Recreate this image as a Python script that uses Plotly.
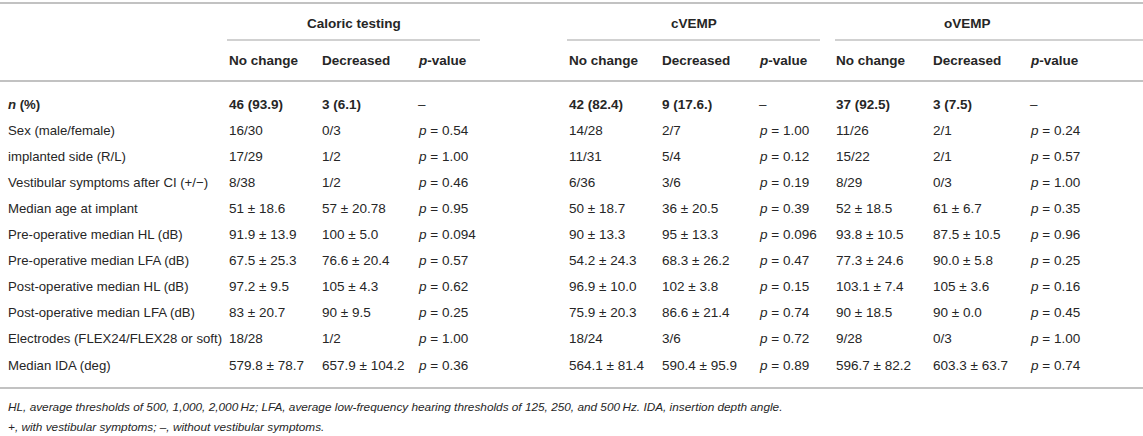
import plotly.graph_objects as go

# table content
group_titles = ["Caloric testing", "cVEMP", "oVEMP"]
sub_headers = ["No change", "Decreased", "<i>p</i>-value"]

row_labels = [
    "<b><i>n</i> (%)</b>",
    "Sex (male/female)",
    "implanted side (R/L)",
    "Vestibular symptoms after CI (+/\u2212)",
    "Median age at implant",
    "Pre-operative median HL (dB)",
    "Pre-operative median LFA (dB)",
    "Post-operative median HL (dB)",
    "Post-operative median LFA (dB)",
    "Electrodes (FLEX24/FLEX28 or soft)",
    "Median IDA (deg)",
]

caloric_nc = ["46 (93.9)", "16/30", "17/29", "8/38", "51 \u00b1 18.6", "91.9 \u00b1 13.9",
              "67.5 \u00b1 25.3", "97.2 \u00b1 9.5", "83 \u00b1 20.7", "18/28", "579.8 \u00b1 78.7"]
caloric_dec = ["3 (6.1)", "0/3", "1/2", "1/2", "57 \u00b1 20.78", "100 \u00b1 5.0",
               "76.6 \u00b1 20.4", "105 \u00b1 4.3", "90 \u00b1 9.5", "1/2", "657.9 \u00b1 104.2"]
caloric_p = ["\u2013", "0.54", "1.00", "0.46", "0.95", "0.094", "0.57", "0.62", "0.25", "1.00", "0.36"]

cvemp_nc = ["42 (82.4)", "14/28", "11/31", "6/36", "50 \u00b1 18.7", "90 \u00b1 13.3",
            "54.2 \u00b1 24.3", "96.9 \u00b1 10.0", "75.9 \u00b1 20.3", "18/24", "564.1 \u00b1 81.4"]
cvemp_dec = ["9 (17.6.)", "2/7", "5/4", "3/6", "36 \u00b1 20.5", "95 \u00b1 13.3",
             "68.3 \u00b1 26.2", "102 \u00b1 3.8", "86.6 \u00b1 21.4", "3/6", "590.4 \u00b1 95.9"]
cvemp_p = ["\u2013", "1.00", "0.12", "0.19", "0.39", "0.096", "0.47", "0.15", "0.74", "0.72", "0.89"]

ovemp_nc = ["37 (92.5)", "11/26", "15/22", "8/29", "52 \u00b1 18.5", "93.8 \u00b1 10.5",
            "77.3 \u00b1 24.6", "103.1 \u00b1 7.4", "90 \u00b1 18.5", "9/28", "596.7 \u00b1 82.2"]
ovemp_dec = ["3 (7.5)", "2/1", "2/1", "0/3", "61 \u00b1 6.7", "87.5 \u00b1 10.5",
             "90.0 \u00b1 5.8", "105 \u00b1 3.6", "90 \u00b1 0.0", "0/3", "603.3 \u00b1 63.7"]
ovemp_p = ["\u2013", "0.24", "0.57", "1.00", "0.35", "0.96", "0.25", "0.16", "0.45", "1.00", "0.74"]

footnotes = [
    "HL, average thresholds of 500, 1,000, 2,000\u2009Hz; LFA, average low-frequency hearing "
    "thresholds of 125, 250, and 500\u2009Hz. IDA, insertion depth angle.",
    "+, with vestibular symptoms; \u2013, without vestibular symptoms.",
]

# layout (pixels)
W, H = 1143, 436
label_x = 6
col_x = [227, 320, 416, 567, 660, 757, 834, 931, 1028]
group_spans = [(227, 480), (567, 820), (835, 1143)]
row_y0, row_dy = 104, 26.1
text_col = "#262626"
line_col = "#c2c2c2"
font = "Liberation Sans, Arial, sans-serif"


def fmt_p(v):
    return v if v == "\u2013" else "<i>p</i> = " + v


columns = [caloric_nc, caloric_dec, [fmt_p(v) for v in caloric_p],
           cvemp_nc, cvemp_dec, [fmt_p(v) for v in cvemp_p],
           ovemp_nc, ovemp_dec, [fmt_p(v) for v in ovemp_p]]

fig = go.Figure()
ann = []


def add_text(x, y, s, size=13.5, anchor="left", italic=False):
    ann.append(dict(x=x, y=y, xref="x", yref="y", text=s, showarrow=False,
                    xanchor=anchor, yanchor="middle",
                    font=dict(family=font, size=size, color=text_col,
                              style="italic" if italic else "normal")))


# group titles and sub headers
for (x0, x1), g in zip(group_spans, group_titles):
    cx = (x0 + x1) / 2 if x1 < W else (x0 + 1100) / 2
    add_text(cx, 23, "<b>" + g + "</b>", anchor="center")
for i, x in enumerate(col_x):
    add_text(x, 60, "<b>" + sub_headers[i % 3] + "</b>")

# body
for r, lab in enumerate(row_labels):
    y = row_y0 + r * row_dy
    add_text(label_x, y, lab, size=13.2)
    for c, col in enumerate(columns):
        s = col[r]
        if r == 0 and c % 3 != 2:
            s = "<b>" + s + "</b>"
        add_text(col_x[c], y, s)

add_text(label_x, 407, footnotes[0], size=11.8, italic=True)
add_text(label_x, 427, footnotes[1], size=11.8, italic=True)

shapes = [
    dict(type="line", x0=0, x1=W, y0=3, y1=3, line=dict(color=line_col, width=2)),
    dict(type="line", x0=0, x1=W, y0=81, y1=81, line=dict(color=line_col, width=2)),
    dict(type="line", x0=0, x1=W, y0=388, y1=388, line=dict(color=line_col, width=2)),
]
for x0, x1 in group_spans:
    shapes.append(dict(type="line", x0=x0, x1=x1, y0=40, y1=40, line=dict(color=line_col, width=1.5)))

fig.update_layout(
    width=W, height=H,
    margin=dict(l=0, r=0, t=0, b=0),
    paper_bgcolor="white", plot_bgcolor="white",
    xaxis=dict(range=[0, W], visible=False, fixedrange=True),
    yaxis=dict(range=[H, 0], visible=False, fixedrange=True),
    annotations=ann,
    shapes=shapes,
    showlegend=False,
)

fig.write_html("out.html", config={"displayModeBar": False},
               post_script="document.body.style.margin='0px';document.body.style.overflow='hidden';")
